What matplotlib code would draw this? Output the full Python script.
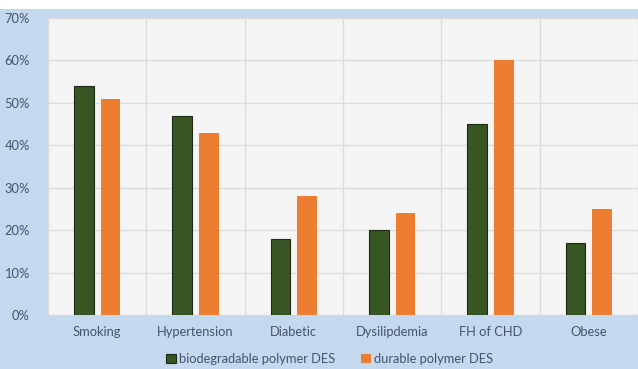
import matplotlib
matplotlib.use("Agg")
import matplotlib.pyplot as plt
from matplotlib.patches import Rectangle
import numpy as np

categories = ["Smoking", "Hypertension", "Diabetic", "Dysilipdemia", "FH of CHD", "Obese"]
biodegradable = [54, 47, 18, 20, 45, 17]
durable = [51, 43, 28, 24, 60, 25]
series_names = ["biodegradable polymer DES", "durable polymer DES"]
yticks = [0, 10, 20, 30, 40, 50, 60, 70]

plt.rcParams['font.family'] = ['Lato', 'DejaVu Sans']

W, H = 638, 369
fig = plt.figure(figsize=(W / 100, H / 100), dpi=100)
fig.patch.set_facecolor("white")
bg = Rectangle((0, 0), 1, 360 / H, transform=fig.transFigure, facecolor="#c5d9ee",
               edgecolor="none", zorder=-10)
fig.patches.append(bg)

ax = fig.add_axes([48 / W, 1 - 315 / H, 590 / W, (315 - 18) / H])
ax.set_facecolor("#f5f5f5")

x = np.arange(len(categories))
w = 0.2
ax.bar(x - 0.135, biodegradable, w, color="#375623", edgecolor="#1e2b14", linewidth=0.8,
       label=series_names[0], zorder=3)
ax.bar(x + 0.135, durable, w, color="#ed7d31", edgecolor="none",
       label=series_names[1], zorder=3)

ax.set_xlim(-0.5, len(categories) - 0.5)
ax.set_ylim(0, 70)
ax.set_yticks(yticks)
ax.set_yticklabels([f"{v}%" for v in yticks])
ax.set_xticks(x)
ax.set_xticklabels(categories)
ax.set_xticks(np.arange(len(categories) + 1) - 0.5, minor=True)
ax.grid(axis="y", which="major", color="#dcdcdc", linewidth=1, zorder=0)
ax.grid(axis="x", which="minor", color="#dcdcdc", linewidth=1, zorder=0)
ax.grid(axis="x", which="major", visible=False)
for s in ax.spines.values():
    s.set_visible(False)
ax.tick_params(axis="both", which="both", length=0, labelsize=9.3, colors="#44546a")
ax.tick_params(axis="x", pad=8)
ax.tick_params(axis="y", pad=13)

leg = fig.legend(loc="center", bbox_to_anchor=(330 / W, 1 - 359 / H), ncol=2, frameon=False,
                 fontsize=9.3, handlelength=0.7, handleheight=0.7, handletextpad=0.3,
                 columnspacing=2.0, labelcolor="#44546a")

fig.savefig("out.png", dpi=100)
